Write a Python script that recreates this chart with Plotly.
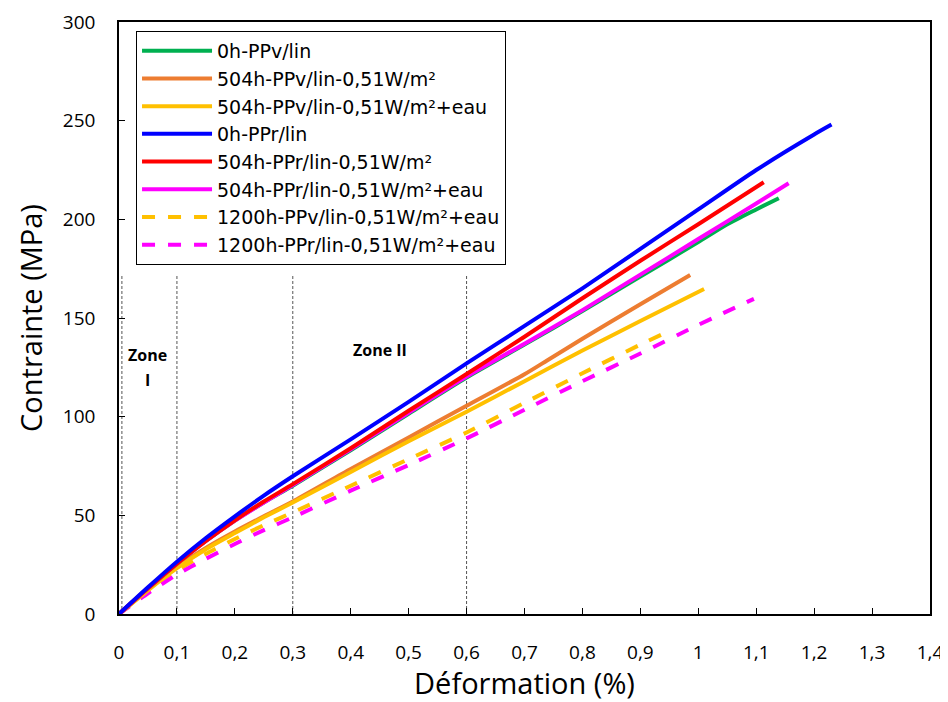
import plotly.graph_objects as go

# ---- data ----
x_0h_ppv = [0, 0.05, 0.1, 0.15, 0.2, 0.25, 0.3, 0.4, 0.5, 0.6, 0.7, 0.8, 0.9, 1.0, 1.05, 1.1, 1.139]
y_0h_ppv = [0, 13, 25.5, 37, 47.3, 56.5, 65, 83, 101.5, 119.8, 136.5, 153.5, 171, 188.5, 197.5, 205, 210.7]

x_504_ppv = [0, 0.05, 0.1, 0.15, 0.2, 0.25, 0.3, 0.4, 0.5, 0.6, 0.7, 0.739, 0.8, 0.9, 0.986]
y_504_ppv = [0, 12.5, 24, 33.5, 41.8, 49.5, 57, 73.5, 89.5, 105.5, 121.5, 128.5, 139.5, 157, 171.8]

x_504_ppv_eau = [0, 0.05, 0.1, 0.15, 0.2, 0.25, 0.3, 0.4, 0.5, 0.6, 0.7, 0.8, 0.9, 1.01]
y_504_ppv_eau = [0, 12, 23.2, 32.8, 41, 49, 56.5, 72, 87.5, 102.5, 118, 133.5, 148.5, 164.7]

x_0h_ppr = [0, 0.05, 0.1, 0.15, 0.2, 0.25, 0.3, 0.4, 0.5, 0.6, 0.7, 0.8, 0.9, 1.0, 1.1, 1.2, 1.23]
y_0h_ppr = [0, 13.5, 26.5, 38.5, 49.5, 60, 69.8, 88.5, 107.5, 127, 146, 165, 185, 205, 225, 243, 248]

x_504_ppr = [0, 0.05, 0.1, 0.15, 0.2, 0.25, 0.3, 0.4, 0.5, 0.6, 0.7, 0.8, 0.9, 1.0, 1.113]
y_504_ppr = [0, 13, 25.5, 37, 47.5, 57, 65.8, 84, 103, 121.6, 140.5, 160, 179, 197.5, 218.8]

x_504_ppr_eau = [0, 0.05, 0.1, 0.15, 0.2, 0.25, 0.3, 0.4, 0.5, 0.6, 0.7, 0.8, 0.9, 1.0, 1.1, 1.156]
y_504_ppr_eau = [0, 13, 25.5, 37, 47.3, 56.5, 65.3, 83.5, 102, 120.3, 137, 154, 172, 190, 208, 218.3]

x_1200_ppv_eau = [0, 0.05, 0.1, 0.15, 0.2, 0.25, 0.3, 0.4, 0.5, 0.6, 0.7, 0.8, 0.9, 0.954]
y_1200_ppv_eau = [0, 11.5, 22, 30.5, 38, 45, 51.5, 65, 78.5, 92, 107, 122, 136.5, 144]

x_1200_ppr_eau = [0, 0.05, 0.1, 0.15, 0.2, 0.25, 0.3, 0.4, 0.5, 0.6, 0.7, 0.8, 0.9, 1.0, 1.096]
y_1200_ppr_eau = [0, 10.5, 20, 28, 35.5, 42.5, 49, 62.5, 75.5, 89, 103.5, 118, 132, 146.5, 159.7]

series_names = [
    "0h-PPv/lin",
    "504h-PPv/lin-0,51W/m²",
    "504h-PPv/lin-0,51W/m²+eau",
    "0h-PPr/lin",
    "504h-PPr/lin-0,51W/m²",
    "504h-PPr/lin-0,51W/m²+eau",
    "1200h-PPv/lin-0,51W/m²+eau",
    "1200h-PPr/lin-0,51W/m²+eau",
]
series_x = [x_0h_ppv, x_504_ppv, x_504_ppv_eau, x_0h_ppr, x_504_ppr, x_504_ppr_eau, x_1200_ppv_eau, x_1200_ppr_eau]
series_y = [y_0h_ppv, y_504_ppv, y_504_ppv_eau, y_0h_ppr, y_504_ppr, y_504_ppr_eau, y_1200_ppv_eau, y_1200_ppr_eau]

x_tickvals = [0, 0.1, 0.2, 0.3, 0.4, 0.5, 0.6, 0.7, 0.8, 0.9, 1.0, 1.1, 1.2, 1.3, 1.4]
x_ticktext = ["0", "0,1", "0,2", "0,3", "0,4", "0,5", "0,6", "0,7", "0,8", "0,9", "1", "1,1", "1,2", "1,3", "1,4"]
y_tickvals = [0, 50, 100, 150, 200, 250, 300]

zone_bounds = [0.005, 0.1, 0.3, 0.6]
zone_top = 172

# ---- styles ----
colors = ["#00B050", "#ED7D31", "#FFC000", "#0000FF", "#FF0000", "#FF00FF", "#FFC000", "#FF00FF"]
dashes = ["solid"] * 6 + ["13px,13px", "13px,13px"]
FONT = "'Open Sans', Lato, sans-serif"
LEG_FONT = "'DejaVu Sans', 'Open Sans', sans-serif"

fig = go.Figure()

order = [6, 7, 1, 2, 0, 5, 4, 3]
traces = {}
for i in range(8):
    traces[i] = go.Scatter(
        x=series_x[i], y=series_y[i], mode="lines", name=series_names[i],
        line=dict(color=colors[i], width=4, dash=dashes[i], shape="spline", smoothing=0.6),
        legendrank=i + 1,
    )
for i in order:
    fig.add_trace(traces[i])

for xb in zone_bounds:
    fig.add_shape(type="line", x0=xb, x1=xb, y0=0, y1=zone_top, xref="x", yref="y",
                  line=dict(color="#555555", width=1, dash="3px,2px"), layer="below")

fig.add_annotation(x=0.05, y=131, text="<b>Zone</b>", showarrow=False,
                   font=dict(family=FONT, size=16, color="black"))
fig.add_annotation(x=0.05, y=118.5, text="<b>I</b>", showarrow=False,
                   font=dict(family=FONT, size=16, color="black"))
fig.add_annotation(x=0.45, y=134, text="<b>Zone II</b>", showarrow=False,
                   font=dict(family=FONT, size=16, color="black"))

# page body has an 8px margin: figure is 940x694 placed at (8, 8)
fig.update_layout(
    width=940, height=694,
    margin=dict(l=111, r=18, t=14, b=88),
    paper_bgcolor="white", plot_bgcolor="white",
    font=dict(family=FONT, color="black"),
    legend=dict(
        x=0.021, y=0.985, xanchor="left", yanchor="top",
        bgcolor="white", bordercolor="black", borderwidth=1,
        font=dict(family=LEG_FONT, size=19, color="black"),
        itemwidth=70, tracegroupgap=0,
    ),
    showlegend=True,
)
fig.update_xaxes(
    range=[0, 1.4], tickvals=x_tickvals, ticktext=x_ticktext, automargin=False,
    showline=True, linecolor="black", linewidth=1.5, mirror=True,
    ticks="inside", ticklen=6, tickcolor="black", showgrid=False, zeroline=False,
    tickfont=dict(family=FONT, size=19, color="black"), ticklabelstandoff=20,
    title=dict(text="Déformation (%)", font=dict(family=FONT, size=29, color="black"), standoff=14),
)
fig.update_yaxes(
    range=[0, 300], tickvals=y_tickvals, automargin=False,
    showline=True, linecolor="black", linewidth=1.5, mirror=True,
    ticks="inside", ticklen=6, tickcolor="black", showgrid=False, zeroline=False,
    tickfont=dict(family=FONT, size=19, color="black"), ticklabelstandoff=18,
    title=dict(text="Contrainte (MPa)", font=dict(family=FONT, size=29, color="black"), standoff=12),
)

fig.write_html("out.html")
